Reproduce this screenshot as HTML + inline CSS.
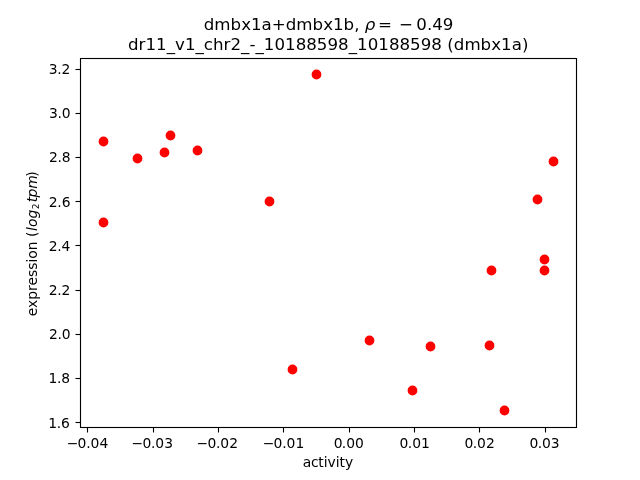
<!DOCTYPE html>
<html lang="en">
<head>
<meta charset="utf-8">
<title>dmbx1a+dmbx1b scatter</title>
<style>
html,body{margin:0;padding:0;background:#fff;}
body{width:640px;height:480px;overflow:hidden;}
svg{display:block;}
text{font-family:"DejaVu Sans","Liberation Sans",sans-serif;fill:#000;}
.t10{font-size:13.889px;}
.t12{font-size:16.667px;}
.it{font-style:oblique;}
</style>
</head>
<body>
<svg width="640" height="480" viewBox="0 0 640 480">
<rect x="0" y="0" width="640" height="480" fill="#ffffff"/>

<g fill="#ff0000" stroke="#ff0000" stroke-width="1.389">
<circle cx="103.5" cy="141.5" r="4.2"/>
<circle cx="103.5" cy="222.5" r="4.2"/>
<circle cx="137.5" cy="158.5" r="4.2"/>
<circle cx="164.5" cy="152.5" r="4.2"/>
<circle cx="170.5" cy="135.5" r="4.2"/>
<circle cx="197.5" cy="150.5" r="4.2"/>
<circle cx="269.5" cy="201.5" r="4.2"/>
<circle cx="292.5" cy="369.5" r="4.2"/>
<circle cx="316.5" cy="74.5" r="4.2"/>
<circle cx="369.5" cy="340.5" r="4.2"/>
<circle cx="412.5" cy="390.5" r="4.2"/>
<circle cx="430.5" cy="346.5" r="4.2"/>
<circle cx="489.5" cy="345.5" r="4.2"/>
<circle cx="491.5" cy="270.5" r="4.2"/>
<circle cx="504.5" cy="410.5" r="4.2"/>
<circle cx="537.5" cy="199.5" r="4.2"/>
<circle cx="544.5" cy="259.5" r="4.2"/>
<circle cx="544.5" cy="270.5" r="4.2"/>
<circle cx="553.5" cy="161.5" r="4.2"/>
</g>
<g fill="none" stroke="#000" stroke-width="1.111">
<path d="M87.5 428v4.5"/>
<path d="M153.5 428v4.5"/>
<path d="M218.5 428v4.5"/>
<path d="M283.5 428v4.5"/>
<path d="M349.5 428v4.5"/>
<path d="M414.5 428v4.5"/>
<path d="M479.5 428v4.5"/>
<path d="M545.5 428v4.5"/>
<path d="M80 69.5h-4.5"/>
<path d="M80 113.5h-4.5"/>
<path d="M80 157.5h-4.5"/>
<path d="M80 201.5h-4.5"/>
<path d="M80 245.5h-4.5"/>
<path d="M80 290.5h-4.5"/>
<path d="M80 334.5h-4.5"/>
<path d="M80 378.5h-4.5"/>
<path d="M80 422.5h-4.5"/>
<path d="M80.5 57.945V428.055M576.5 57.945V428.055M79.945 58.5H577.055M79.945 427.5H577.055"/>
<path d="M81 57.5H576M81 59.5H576M81 426.5H576M81 428.5H576" stroke-width="1" stroke-opacity="0.055"/>
</g>
<g class="t10" text-anchor="middle">
<text x="86.45" y="448" dx="1 -0.7 -0.3">−0.04</text>
<text x="151.27" y="448" dx="1 -0.7 -0.3">−0.03</text>
<text x="216.27" y="448" dx="1 -0.7 -0.3">−0.02</text>
<text x="282.45" y="448" dx="1 -0.7 -0.3">−0.01</text>
<text x="348.19" y="448" dx="0.6 -0.6">0.00</text>
<text x="414.06" y="448" dx="0.6 -0.6">0.01</text>
<text x="479.00" y="448" dx="0.6 -0.6">0.02</text>
<text x="543.95" y="448" dx="0.6 -0.6">0.03</text>
<text x="327.3" y="467" dx="0.7 -0.4 -0.3">activity</text>
</g>
<g class="t10" text-anchor="end">
<text x="70.06" y="74" dx="0.4 -0.4">3.2</text>
<text x="70.30" y="118" dx="0.4 -0.4">3.0</text>
<text x="70.27" y="162" dx="0.4 -0.4">2.8</text>
<text x="70.09" y="207" dx="0.4 -0.4">2.6</text>
<text x="70.01" y="251" dx="0.4 -0.4">2.4</text>
<text x="70.06" y="295" dx="0.4 -0.4">2.2</text>
<text x="70.30" y="339" dx="0.4 -0.4">2.0</text>
<text x="69.75" y="383" dx="0.4 -0.4">1.8</text>
<text x="69.54" y="428" dx="0.4 -0.4">1.6</text>
</g>
<g transform="translate(38.02 316.2) rotate(-90)"><text class="t10" y="-0.564">
<tspan x="0.00" y="-0.56" style="font-size:13.889px;">expression (</tspan>
<tspan x="85.30" y="-0.56" style="font-size:13.889px;font-style:oblique;">log</tspan>
<tspan x="106.89" y="1.31" style="font-size:9.028px;">2</tspan>
<tspan x="113.84" y="-0.56" style="font-size:13.889px;font-style:oblique;">t</tspan>
<tspan x="118.62" y="-0.56" style="font-size:13.889px;font-style:oblique;">pm</tspan>
<tspan x="139.52" y="-0.56" style="font-size:13.889px;">)</tspan>
</text></g>
<text class="t12" x="203.8" y="30">dmbx1a+dmbx1b, <tspan class="it">ρ</tspan><tspan x="377.9">=</tspan><tspan x="399">−</tspan><tspan x="416.3">0.49</tspan></text>
<text class="t12" x="127.99" y="50" letter-spacing="0.017">dr11_v1_chr2_-_10188598_10188598 (dmbx1a)</text>
</svg>
</body>
</html>
